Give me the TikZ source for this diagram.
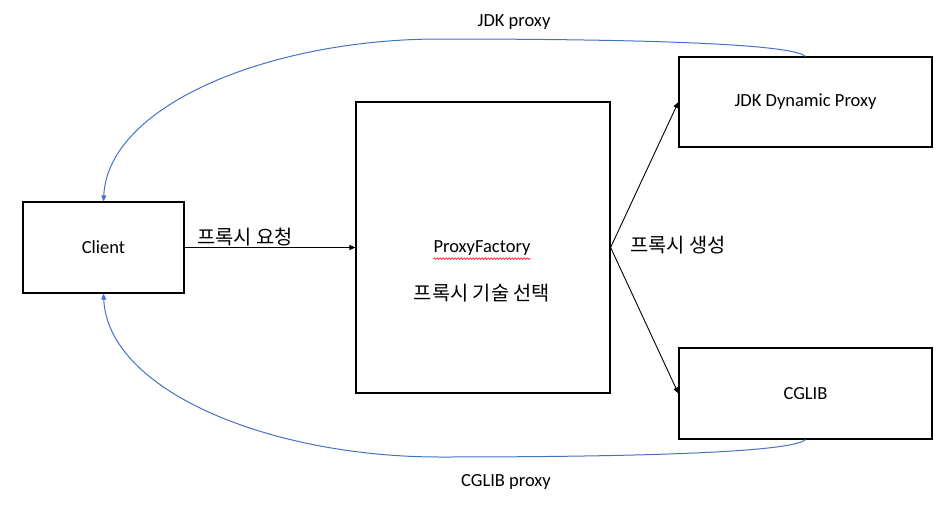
\documentclass[tikz,border=0pt]{standalone}
\usepackage{fontspec}
\setmainfont{Carlito}
\newfontfamily\kr{Noto Sans CJK KR}
\usetikzlibrary{arrows.meta,decorations.pathmorphing}
\definecolor{ofblue}{RGB}{68,114,196}
\tikzset{
  box/.style={draw=black, line width=1.2pt, inner sep=0pt, font=\fontsize{18.5}{22}\selectfont},
  lbl/.style={inner sep=0pt, font=\fontsize{18.5}{22}\selectfont},
  krl/.style={inner sep=0pt, font=\kr\fontsize{19.8}{23}\selectfont},
  blk/.style={draw=black, line width=0.9pt, -{Triangle[width=5pt,length=6pt]}},
  blu/.style={draw=ofblue, line width=1pt, -{Triangle[width=5pt,length=6pt]}},
  squig/.style={draw=red, line width=0.6pt, decorate, decoration={snake, amplitude=0.8pt, segment length=3pt}},
}
\begin{document}
\begin{tikzpicture}[x=1pt,y=-1pt]
\useasboundingbox (0,0) rectangle (950,522);
\node[box, minimum width=161pt, minimum height=91pt] (client) at (103.5,247.5) {Client};
\node[box, minimum width=254pt, minimum height=291pt] (pf) at (483,247.5) {};
\node[box, minimum width=253pt, minimum height=90pt] (jdk) at (805.5,102) {JDK Dynamic Proxy};
\node[box, minimum width=253pt, minimum height=91pt] (cglib) at (805.5,393.5) {CGLIB};
\node[lbl] (pfname) at (482,248) {ProxyFactory};
\draw[squig] ([yshift=-3pt]pfname.south west) -- ([yshift=-3pt]pfname.south east);
\node[krl] (pfsel) at (482,293) {프록시 기술 선택};
\node[krl] (req) at (245,237) {프록시 요청};
\node[krl] (gen) at (678,245) {프록시 생성};
\node[lbl] (jdkp) at (514,22) {JDK proxy};
\node[lbl] (cgp) at (506,482) {CGLIB proxy};
\draw[blk] (client.east) -- (pf.west);
\draw[blk] (pf.east) -- (jdk.west);
\draw[blk] (pf.east) -- (cglib.west);
\draw[blu] (jdk.north) .. controls (790,42) and (600,39) .. (440,39) .. controls (270,39) and (108,105) .. (client.north);
\draw[blu] (cglib.south) .. controls (790,454) and (600,457) .. (440,457) .. controls (270,457) and (108,391) .. (client.south);
\end{tikzpicture}
\end{document}
